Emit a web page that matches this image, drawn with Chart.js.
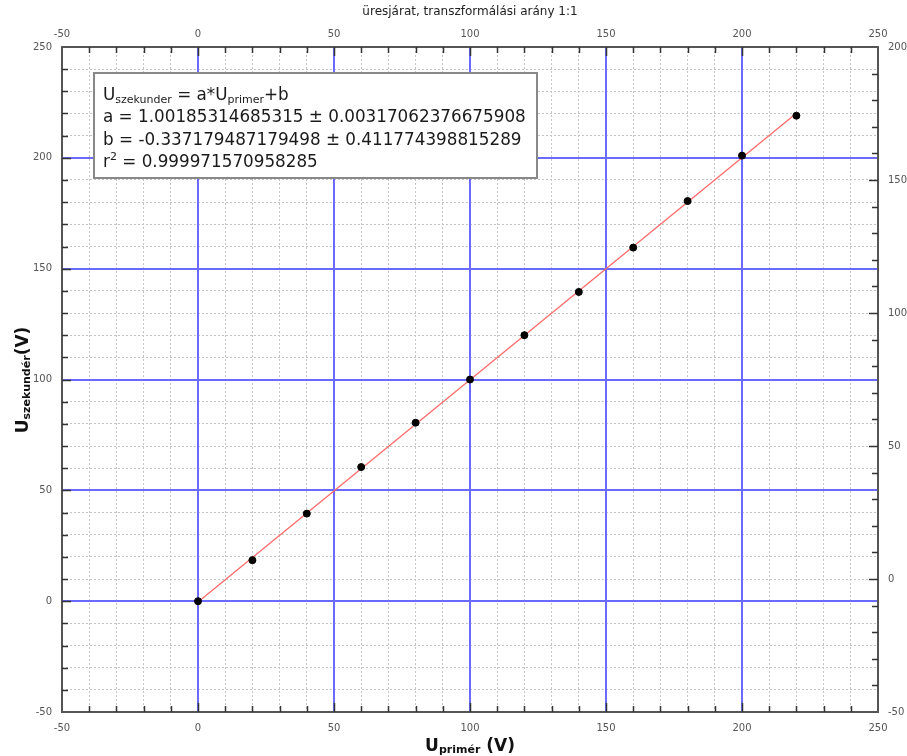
<!DOCTYPE html>
<html>
<head>
<meta charset="utf-8">
<script src="https://cdn.jsdelivr.net/npm/chart.js@4/dist/chart.umd.min.js"></script>
<style>
  html, body { margin: 0; padding: 0; background: #fff; }
  canvas { display: block; }
</style>
</head>
<body>
<canvas id="myChart" width="907" height="756"></canvas>
<script>
// measured points (U primer, U szekunder)
const primer = [0, 20, 40, 60, 80, 100, 120, 140, 160, 180, 200, 220];
const szekunder = [0, 18.5, 39.5, 60.5, 80.5, 100, 120, 139.5, 159.5, 180.5, 201, 219];

// fit result shown in the box
const fitA = 1.00185314685315;
const fitB = -0.337179487179498;
const fitRange = [0, 220];

const boxLines = [
    'a = 1.00185314685315 \u00b1 0.00317062376675908',
    'b = -0.337179487179498 \u00b1 0.411774398815289'
];
const r2Text = ' = 0.999971570958285';
const chartTitle = '\u00fcresj\u00e1rat, transzform\u00e1l\u00e1si ar\u00e1ny 1:1';

const FONT = "'DejaVu Sans', sans-serif";

// axis with labels every 50 and solid blue grid
function majorAxis(position, min, max, pad, size, onArea) {
    const horiz = position === 'top' || position === 'bottom';
    return {
        type: 'linear',
        position: position,
        min: min,
        max: max,
        afterFit: function(scale) {
            if (horiz) scale.height = size; else scale.width = size;
        },
        grid: {
            drawOnChartArea: onArea,
            drawTicks: false,
            color: '#6a6aff',
            lineWidth: 2,
            z: -1
        },
        border: { display: false },
        ticks: {
            stepSize: 50,
            autoSkip: false,
            maxRotation: 0,
            padding: pad,
            color: '#555',
            font: { family: FONT, size: 10 }
        }
    };
}
// hidden axis only for the dotted 10-step grid
function minorAxis(position, min, max) {
    const horiz = position === 'top' || position === 'bottom';
    return {
        type: 'linear',
        position: position,
        min: min,
        max: max,
        afterFit: function(scale) {
            if (horiz) scale.height = 0; else scale.width = 0;
        },
        grid: { drawTicks: false, color: '#c4c4c4', lineWidth: 1, z: -2 },
        border: { display: false, dash: [2, 2] },
        ticks: { display: false, stepSize: 10, autoSkip: false }
    };
}

// frame and inward tick marks on all four sides
const tickMarks = {
    id: 'tickMarks',
    afterDraw(chart) {
        const ctx = chart.ctx;
        const area = chart.chartArea;
        ctx.save();
        ctx.strokeStyle = '#555';
        ctx.lineWidth = 2;
        ctx.strokeRect(area.left, area.top, area.right - area.left, area.bottom - area.top);
        ctx.strokeStyle = '#333';
        ctx.lineWidth = 1.5;
        ['x', 'x2', 'y', 'y2'].forEach(function(id) {
            const s = chart.scales[id];
            for (let v = s.min + 10; v < s.max; v += 10) {
                const len = v % 50 === 0 ? 9 : 6;
                const p = Math.round(s.getPixelForValue(v)) + 0.5;
                ctx.beginPath();
                if (id === 'x') { ctx.moveTo(p, area.bottom); ctx.lineTo(p, area.bottom - len); }
                if (id === 'x2') { ctx.moveTo(p, area.top); ctx.lineTo(p, area.top + len); }
                if (id === 'y') { ctx.moveTo(area.left, p); ctx.lineTo(area.left + len, p); }
                if (id === 'y2') { ctx.moveTo(area.right, p); ctx.lineTo(area.right - len, p); }
                ctx.stroke();
            }
        });
        ctx.restore();
    }
};

// helper: draw text pieces with sub/superscripts
function drawRich(ctx, x, y, parts) {
    parts.forEach(function(p) {
        ctx.font = p.font;
        ctx.fillText(p.text, x, y + (p.dy || 0));
        x += ctx.measureText(p.text).width;
    });
    return x;
}
function richWidth(ctx, parts) {
    let w = 0;
    parts.forEach(function(p) { ctx.font = p.font; w += ctx.measureText(p.text).width; });
    return w;
}

const annotations = {
    id: 'annotations',
    afterDraw(chart) {
        const ctx = chart.ctx;
        const area = chart.chartArea;
        ctx.save();

        // title
        ctx.fillStyle = '#222';
        ctx.font = '12px ' + FONT;
        ctx.textAlign = 'center';
        ctx.textBaseline = 'alphabetic';
        ctx.fillText(chartTitle, (area.left + area.right) / 2, 15);
        ctx.textAlign = 'left';

        // fit box
        ctx.fillStyle = '#fff';
        ctx.fillRect(94, 73, 443, 105);
        ctx.strokeStyle = '#888';
        ctx.lineWidth = 2;
        ctx.strokeRect(94, 73, 443, 105);

        ctx.fillStyle = '#1a1a1a';
        const big = '16.8px ' + FONT;
        const small = '11px ' + FONT;
        drawRich(ctx, 103, 99.5, [
            { text: 'U', font: big },
            { text: 'szekunder', font: small, dy: 3 },
            { text: ' = a*U', font: big },
            { text: 'primer', font: small, dy: 3 },
            { text: '+b', font: big }
        ]);
        ctx.font = big;
        ctx.fillText(boxLines[0], 103, 122);
        ctx.fillText(boxLines[1], 103, 144.5);
        drawRich(ctx, 103, 167, [
            { text: 'r', font: big },
            { text: '2', font: small, dy: -7 },
            { text: r2Text, font: big }
        ]);

        // x axis title
        const bBig = 'bold 17px ' + FONT;
        const bSmall = 'bold 11px ' + FONT;
        const xParts = [
            { text: 'U', font: bBig },
            { text: 'prim\u00e9r', font: bSmall, dy: 2 },
            { text: ' (V)', font: bBig }
        ];
        ctx.fillStyle = '#111';
        const xw = richWidth(ctx, xParts);
        drawRich(ctx, 470 - xw / 2, 751, xParts);

        // y axis title
        const yParts = [
            { text: 'U', font: bBig },
            { text: 'szekund\u00e9r', font: bSmall, dy: 2 },
            { text: '(V)', font: bBig }
        ];
        const yw = richWidth(ctx, yParts);
        ctx.translate(28, 380);
        ctx.rotate(-Math.PI / 2);
        drawRich(ctx, -yw / 2, 0, yParts);

        ctx.restore();
    }
};

const fitData = fitRange.map(function(x) { return { x: x, y: fitA * x + fitB }; });
const pointData = primer.map(function(x, i) { return { x: x, y: szekunder[i] }; });

const ctx = document.getElementById('myChart').getContext('2d');
new Chart(ctx, {
    type: 'scatter',
    data: {
        datasets: [{
            data: pointData,
            backgroundColor: '#000',
            borderColor: '#000',
            pointRadius: 3.5,
            order: 1
        }, {
            type: 'line',
            data: fitData,
            borderColor: '#ff6a6a',
            borderWidth: 1.3,
            pointRadius: 0,
            fill: false,
            order: 2
        }]
    },
    options: {
        responsive: false,
        animation: false,
        layout: { padding: 0 },
        plugins: {
            legend: { display: false },
            tooltip: { enabled: false },
            title: { display: false }
        },
        scales: {
            xMinor: minorAxis('bottom', -50, 250),
            yMinor: minorAxis('left', -50, 250),
            x: majorAxis('bottom', -50, 250, 10, 44, true),
            x2: majorAxis('top', -50, 250, 7, 47, false),
            y: majorAxis('left', -50, 250, 10, 62, true),
            y2: majorAxis('right', -50, 200, 10, 29, false)
        }
    },
    plugins: [tickMarks, annotations]
});
</script>
</body>
</html>
